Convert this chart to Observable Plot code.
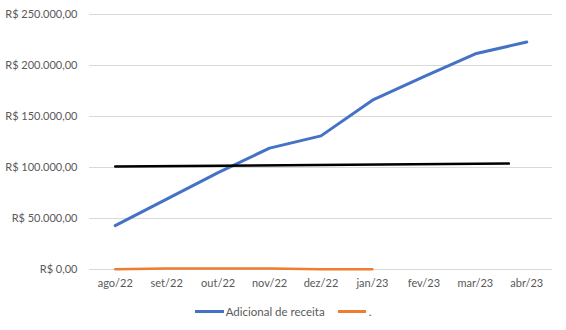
<!DOCTYPE html>
<html>
<head>
<meta charset="utf-8">
<script src="https://cdn.jsdelivr.net/npm/d3@7"></script>
<script src="https://cdn.jsdelivr.net/npm/@observablehq/plot@0.6"></script>
<style>
  body { margin: 0; background: #fff; }
  #chart { width: 566px; height: 330px; font-family: Lato, "Open Sans", sans-serif; }
  .legend { display: flex; justify-content: center; align-items: center; height: 22px; margin-top: 0px;
            font-size: 11.5px; color: #595959; }
  .sw { display: inline-block; width: 29px; height: 3px; margin-right: 2px; }
  .item { display: flex; align-items: center; }
  .item + .item { margin-left: 13px; }
</style>
</head>
<body>
<div id="chart"></div>
<script>
// Months on the horizontal axis
const months = ["ago/22", "set/22", "out/22", "nov/22", "dez/22", "jan/23", "fev/23", "mar/23", "abr/23"];

// "Adicional de receita" (R$)
const adicional = [43000, 69000, 95000, 119000, 131000, 166000, 189000, 211500, 223000];

// Second series, labelled "." (R$), Aug/22 to Jan/23
const ponto = [200, 1000, 1000, 900, 300, 300];

// Reference line: start and end position (month index) with value (R$)
const refX = [0, 7.65];
const refY = [101000, 103800];

// Vertical axis ticks (R$)
const yTicks = [0, 50000, 100000, 150000, 200000, 250000];

const brl = d3.formatLocale({decimal: ",", thousands: ".", grouping: [3], currency: ["R$ ", ""]}).format("$,.2f");

const serieA = months.map((m, i) => ({i, v: adicional[i]}));
const serieB = ponto.map((v, i) => ({i, v}));
const ref = refX.map((x, k) => ({i: x, v: refY[k]}));

const chart = Plot.plot({
  width: 566,
  height: 300,
  marginLeft: 89,
  marginRight: 14,
  marginTop: 14,
  marginBottom: 31,
  style: {fontFamily: "Lato, 'Open Sans', sans-serif", fontSize: "11px", color: "#595959", background: "#fff"},
  x: {type: "linear", domain: [-0.5, 8.5], label: null},
  y: {domain: [0, 250000], label: null},
  marks: [
    Plot.gridY(yTicks, {stroke: "#d9d9d9", strokeOpacity: 1, strokeWidth: 1}),
    Plot.axisY(yTicks, {tickSize: 0, tickPadding: 12, tickFormat: brl, fill: "#595959", label: null}),
    Plot.axisX(months.map((_, i) => i), {tickSize: 0, tickPadding: 10, tickFormat: i => months[i], fill: "#595959", label: null}),
    Plot.line(serieB, {x: "i", y: "v", stroke: "#ED7D31", strokeWidth: 2.5}),
    Plot.line(serieA, {x: "i", y: "v", stroke: "#4472C4", strokeWidth: 3}),
    Plot.line(ref, {x: "i", y: "v", stroke: "#000", strokeWidth: 2.5})
  ]
});

const root = document.getElementById("chart");
root.appendChild(chart);

const legend = document.createElement("div");
legend.className = "legend";
legend.innerHTML =
  `<span class="item"><span class="sw" style="background:#4472C4"></span>Adicional de receita</span>` +
  `<span class="item"><span class="sw" style="background:#ED7D31;width:28px;margin-right:3px"></span>.</span>`;
root.appendChild(legend);
</script>
</body>
</html>
